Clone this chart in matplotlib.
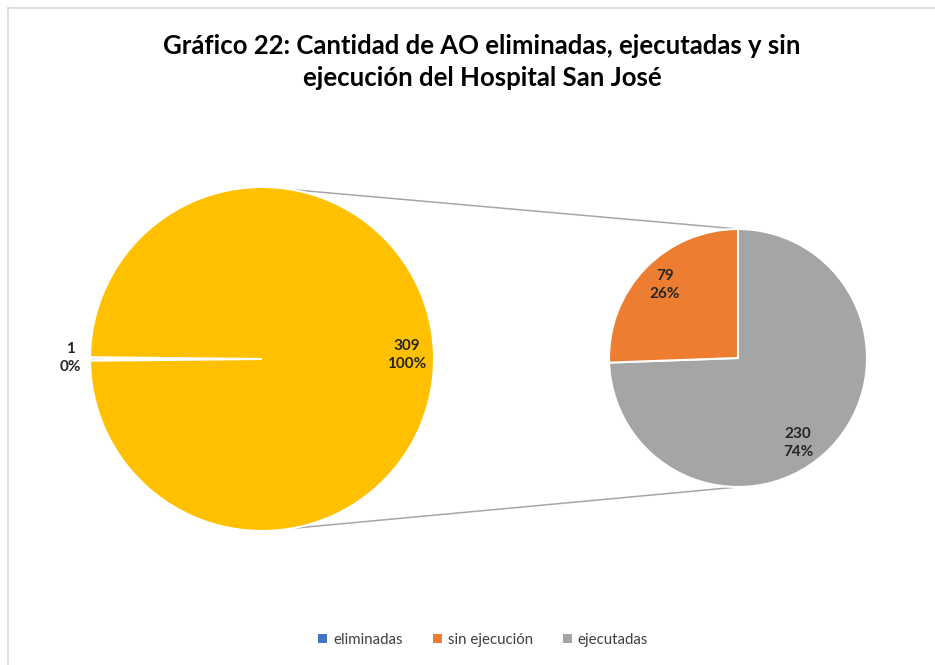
import numpy as np
import matplotlib
matplotlib.use("Agg")
import matplotlib.pyplot as plt
from matplotlib.patches import Patch

plt.rcParams['font.family'] = ['Lato', 'DejaVu Sans']

title = "Gráfico 22: Cantidad de AO eliminadas, ejecutadas y sin\nejecución del Hospital San José"
categories = ["eliminadas", "sin ejecución", "ejecutadas"]
values = [1, 79, 230]
colors = ["#4472C4", "#ED7D31", "#A5A5A5"]
main_color = "#FFC000"

W, H = 935, 665
fig = plt.figure(figsize=(W / 100, H / 100), dpi=100)
ax = fig.add_axes([0, 0, 1, 1])
ax.set_xlim(0, W)
ax.set_ylim(0, H)
ax.set_aspect('equal')
ax.axis('off')

# chart border (only top and left visible in reference)
fig.add_artist(plt.Line2D([7.5 / W, 1], [1 - 7.5 / H, 1 - 7.5 / H], color="#D9D9D9", lw=1.2))
fig.add_artist(plt.Line2D([7.5 / W, 7.5 / W], [0, 1 - 7.5 / H], color="#D9D9D9", lw=1.2))

total = sum(values)
other = values[1] + values[2]

# Main pie
c1 = (262, H - 359)
r1 = 172
main_vals = [values[0], other]
start = 180 - values[0] / total * 360 / 2
w1, _ = ax.pie(main_vals, colors=[colors[0], main_color], startangle=start,
               center=c1, radius=r1, frame=True,
               wedgeprops=dict(edgecolor='white', linewidth=1.5))
w1[0].set_edgecolor('white')
w1[0].set_linewidth(2.2)

# Secondary pie
c2 = (738, H - 358)
r2 = 129
sec_vals = [values[2], values[1]]
w2, _ = ax.pie(sec_vals, colors=[colors[2], colors[1]], startangle=90, counterclock=False,
               center=c2, radius=r2, frame=True,
               wedgeprops=dict(edgecolor='white', linewidth=1.5))
ax.set_xlim(0, W)
ax.set_ylim(0, H)
ax.axis('off')

# connector lines
a = np.deg2rad(80)
for s in (1, -1):
    x0 = c1[0] + r1 * np.cos(a)
    y0 = c1[1] + s * r1 * np.sin(a)
    x1 = c2[0]
    y1 = c2[1] + s * r2
    ax.plot([x0, x1], [y0, y1], color="#A6A6A6", lw=1.1, zorder=0.5)

lab_kw = dict(ha='center', va='center', fontsize=11, fontweight='bold', color="#262626", linespacing=1.45)
pct = lambda v, t: f"{round(v / t * 100):d}%"
ax.text(407, H - 355, f"{other}\n{pct(other, total)}", **lab_kw)
ax.text(70, H - 358, f"{values[0]}\n{pct(values[0], total)}", **lab_kw)
ax.text(665, H - 285, f"{values[1]}\n{pct(values[1], other)}", **lab_kw)
ax.text(798, H - 443, f"{values[2]}\n{pct(values[2], other)}", **lab_kw)

fig.text(482 / W, 1 - 62 / H, title, ha='center', va='center', fontsize=18.5,
         fontweight='bold', color="#000000", linespacing=1.35)

handles = [Patch(facecolor=c, edgecolor='none') for c in colors]
leg = fig.legend(handles, categories, loc='center', bbox_to_anchor=(483 / W, 1 - 640 / H),
                 ncol=3, frameon=False, fontsize=10.8, handlelength=0.6, handleheight=0.6,
                 handletextpad=0.4, columnspacing=2.0)
for t in leg.get_texts():
    t.set_color("#404040")

fig.savefig("out.png", dpi=100, facecolor='white')
